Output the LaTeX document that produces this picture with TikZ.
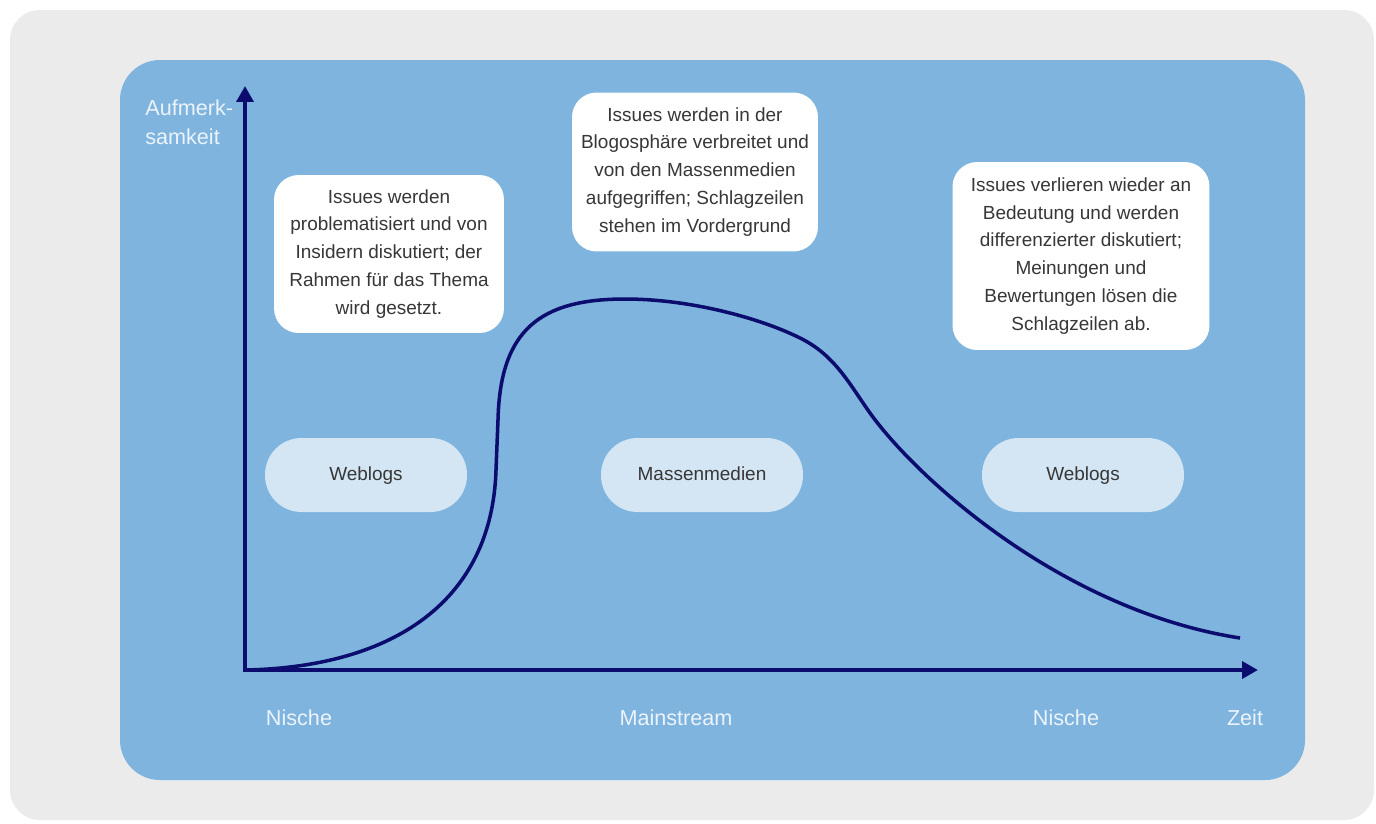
\documentclass[tikz,border=0pt]{standalone}
\usepackage{fontspec}
\setmainfont{Liberation Sans}
\usepackage{xcolor}
\usepackage{tikz}
\usetikzlibrary{arrows.meta}

\definecolor{panelgray}{RGB}{235,235,235}
\definecolor{panelblue}{RGB}{126,180,222}
\definecolor{pillblue}{RGB}{212,230,243}
\definecolor{axisnavy}{RGB}{12,12,110}
\definecolor{labelwhite}{RGB}{236,243,250}
\definecolor{boxtext}{RGB}{55,55,55}

\begin{document}
\begin{tikzpicture}[x=0.02cm, y=-0.02cm,
        phase/.style={fill=white, rounded corners=14pt, align=center, text=boxtext,
            font=\fontsize{10.8}{15.9}\selectfont, inner sep=0pt},
        medium/.style={fill=pillblue, rounded corners=0.73cm, minimum width=4.04cm,
            minimum height=1.48cm, text=boxtext, font=\fontsize{10.8}{13}\selectfont,
            text height=1.6ex, text depth=0.4ex},
        axislabel/.style={text=labelwhite, font=\fontsize{12.3}{16.4}\selectfont, inner sep=0pt}]
            \useasboundingbox (0,0) rectangle (1376,823);

            % Panels
            \fill[panelgray, rounded corners=0.6cm] (10,10) rectangle (1374,820);
            \fill[panelblue, rounded corners=0.8cm] (120,60) rectangle (1305,780);

            % Axes
            \coordinate (origin) at (245,670);
            \coordinate (ytip) at (245,86);
            \coordinate (xtip) at (1258,670);
            \draw[axisnavy, line width=2.2pt,
                {Triangle[length=9pt, width=9.5pt]}-{Triangle[length=9pt, width=9.5pt]}]
                (ytip) -- (origin) -- (xtip);

            % Attention curve: slow start, sharp rise, plateau, long decline
            \draw[axisnavy, line width=2pt] (origin)
                .. controls (395,667) and (492,600) .. (496,470)
                -- (498,420)
                .. controls (500,330) and (540,299) .. (625,299)
                .. controls (690,299) and (760,318) .. (800,338)
                .. controls (835,355) and (850,385) .. (870,413)
                .. controls (915,476) and (1060,610) .. (1240,638);

            % Phases
            \node[phase, minimum width=4.6cm, minimum height=3.16cm] (insider) at (389,254)
                {Issues werden\\problematisiert und von\\Insidern diskutiert; der\\Rahmen für das Thema\\wird gesetzt.};
            \node[phase, minimum width=4.92cm, minimum height=3.18cm] (headline) at (695,172)
                {Issues werden in der\\Blogosphäre verbreitet und\\von den Massenmedien\\aufgegriffen; Schlagzeilen\\stehen im Vordergrund};
            \node[phase, minimum width=5.14cm, minimum height=3.76cm] (opinion) at (1081,256)
                {Issues verlieren wieder an\\Bedeutung und werden\\differenzierter diskutiert;\\Meinungen und\\Bewertungen lösen die\\Schlagzeilen ab.};

            % Media
            \node[medium] (blogsA) at (366,475) {Weblogs};
            \node[medium] (massmedia) at (702,475) {Massenmedien};
            \node[medium] (blogsB) at (1083,475) {Weblogs};

            % Labels
            \node[axislabel, align=left, anchor=west] (yname) at (145,122) {Aufmerk-\\samkeit};
            \node[axislabel] (nicheA) at (299,718) {Nische};
            \node[axislabel] (mainstream) at (676,718) {Mainstream};
            \node[axislabel] (nicheB) at (1066,718) {Nische};
            \node[axislabel] (timename) at (1245,718) {Zeit};

        \end{tikzpicture}
\end{document}
